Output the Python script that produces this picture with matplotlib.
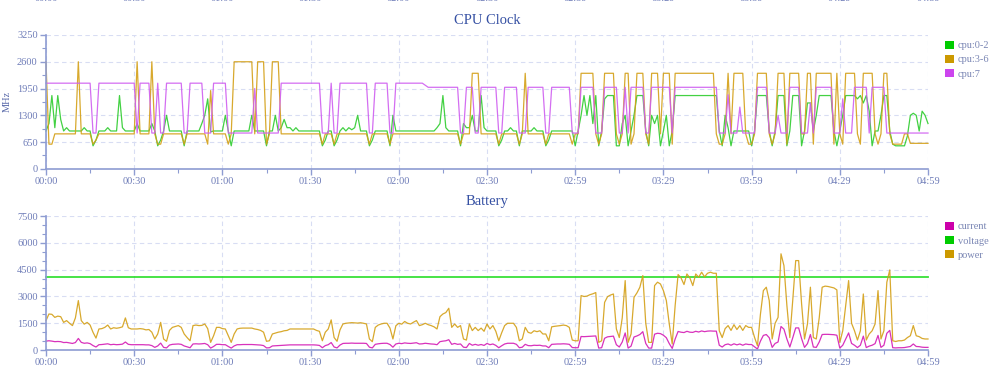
import matplotlib
matplotlib.use('Agg')
import matplotlib.pyplot as plt
from matplotlib.ticker import MultipleLocator
from matplotlib.patches import Patch
from matplotlib.transforms import blended_transform_factory

# x axis: one sample per minute (04:59 is sample 300)
tick_index = [0, 30, 60, 90, 120, 150, 180, 210, 240, 270, 300]
tick_labels = ['00:00', '00:30', '01:00', '01:30', '02:00', '02:30',
               '02:59', '03:29', '03:59', '04:29', '04:59']

cpu_labels = ['cpu:0-2', 'cpu:3-6', 'cpu:7']
battery_labels = ['current', 'voltage', 'power']

cpu_0_2 = [
    920, 1100, 1780, 1000, 1780, 1200, 920, 1000, 920, 920,
    920, 920, 920, 1000, 920, 920, 560, 700, 920, 920,
    920, 1000, 920, 920, 920, 1780, 1000, 920, 920, 920,
    920, 1100, 920, 920, 920, 920, 1100, 920, 560, 700,
    920, 1300, 920, 920, 920, 920, 920, 560, 920, 920,
    920, 920, 920, 1100, 1300, 1700, 900, 920, 920, 920,
    920, 1300, 920, 560, 920, 920, 920, 920, 920, 920,
    1300, 920, 920, 920, 920, 560, 920, 920, 1300, 920,
    1000, 1200, 1000, 1000, 920, 1000, 920, 920, 920, 920,
    920, 920, 920, 920, 560, 700, 920, 920, 560, 700,
    920, 1000, 920, 1000, 950, 1000, 1300, 920, 920, 920,
    560, 700, 920, 920, 920, 920, 920, 560, 1300, 920,
    920, 920, 920, 920, 920, 920, 920, 920, 920, 920,
    920, 920, 920, 1000, 1100, 1780, 1000, 920, 920, 920,
    920, 560, 1100, 1000, 1000, 1300, 920, 920, 1780, 1000,
    920, 920, 920, 920, 560, 700, 920, 920, 1000, 920,
    920, 560, 920, 920, 920, 920, 1000, 920, 920, 920,
    560, 700, 920, 920, 920, 920, 920, 920, 920, 920,
    560, 920, 1300, 1780, 1300, 1780, 1100, 1780, 560, 920,
    1700, 1780, 1780, 1780, 560, 560, 1100, 1300, 560, 920,
    1300, 1780, 1780, 1780, 920, 560, 1300, 1100, 1300, 560,
    920, 1300, 560, 920, 1780, 1780, 1780, 1780, 1780, 1780,
    1780, 1780, 1780, 1780, 1780, 1780, 1780, 1780, 1780, 920,
    560, 1300, 1000, 560, 920, 920, 920, 920, 920, 920,
    560, 920, 1780, 1780, 1780, 1780, 920, 560, 920, 1780,
    1780, 1780, 560, 920, 1780, 1780, 1780, 560, 920, 1600,
    1600, 920, 1300, 1780, 1780, 1780, 1780, 1780, 920, 560,
    920, 1300, 1780, 1780, 1780, 1780, 1700, 1780, 1600, 1780,
    1400, 560, 920, 920, 1300, 1780, 1780, 920, 600, 560,
    560, 560, 560, 800, 1300, 1350, 1300, 920, 1400, 1300,
    1100,
]

cpu_3_6 = [
    2600, 600, 600, 850, 850, 850, 850, 850, 850, 850,
    850, 2600, 850, 850, 850, 850, 600, 700, 850, 850,
    850, 850, 850, 850, 850, 850, 850, 850, 850, 850,
    850, 2600, 850, 850, 850, 850, 2600, 850, 600, 600,
    850, 850, 850, 850, 850, 850, 850, 600, 850, 850,
    850, 850, 850, 850, 850, 600, 1900, 850, 850, 850,
    850, 850, 600, 850, 2600, 2600, 2600, 2600, 2600, 2600,
    2600, 850, 2600, 2600, 2600, 600, 850, 2600, 2600, 2600,
    850, 850, 850, 850, 850, 850, 850, 850, 850, 850,
    850, 850, 850, 850, 600, 850, 850, 850, 600, 850,
    850, 850, 850, 850, 850, 850, 850, 850, 850, 850,
    600, 850, 850, 850, 850, 850, 850, 600, 850, 850,
    850, 850, 850, 850, 850, 850, 850, 850, 850, 850,
    850, 850, 850, 850, 850, 850, 850, 850, 850, 850,
    850, 600, 850, 850, 850, 2320, 2320, 2320, 850, 850,
    850, 850, 850, 850, 600, 850, 850, 850, 850, 850,
    850, 600, 850, 2320, 850, 850, 850, 850, 850, 850,
    600, 850, 850, 850, 850, 850, 850, 850, 850, 600,
    850, 850, 2320, 2320, 2320, 2320, 2320, 850, 600, 850,
    2320, 2320, 2320, 2320, 850, 600, 850, 2320, 2320, 600,
    850, 2320, 2320, 2320, 850, 600, 2320, 2320, 2320, 850,
    2320, 2320, 2320, 600, 2320, 2320, 2320, 2320, 2320, 2320,
    2320, 2320, 2320, 2320, 2320, 2320, 2320, 2320, 850, 600,
    600, 850, 2320, 850, 2320, 2320, 2320, 2320, 850, 600,
    600, 850, 2320, 2320, 2320, 2320, 850, 600, 850, 2320,
    2320, 2320, 600, 2320, 2320, 2320, 2320, 850, 850, 2320,
    2320, 600, 2320, 2320, 2320, 2320, 2320, 2320, 600, 2320,
    850, 600, 2320, 2320, 2320, 2320, 850, 600, 2320, 2320,
    2320, 2320, 850, 600, 850, 2320, 2320, 850, 600, 600,
    600, 600, 850, 850, 620, 620, 620, 620, 620, 620,
    620,
]

cpu_7 = [
    2080, 2080, 2080, 2080, 2080, 2080, 2080, 2080, 2080, 2080,
    2080, 2080, 2080, 2080, 2080, 2080, 870, 870, 2080, 2080,
    2080, 2080, 2080, 2080, 2080, 2080, 2080, 2080, 2080, 2080,
    2080, 870, 2080, 2080, 2080, 2080, 870, 870, 2080, 870,
    870, 2080, 2080, 2080, 2080, 2080, 2080, 870, 870, 2080,
    2080, 2080, 2080, 2080, 870, 870, 870, 2080, 2080, 2080,
    2080, 2080, 870, 870, 870, 870, 870, 870, 870, 870,
    870, 1950, 870, 870, 870, 870, 870, 870, 870, 870,
    2080, 2080, 2080, 2080, 2080, 2080, 2080, 2080, 2080, 2080,
    2080, 2080, 2080, 2080, 870, 870, 870, 2080, 870, 870,
    2080, 2080, 2080, 2080, 2080, 2080, 2080, 2080, 2080, 2080,
    870, 870, 2080, 2080, 2080, 2080, 2080, 870, 870, 2080,
    2080, 2080, 2080, 2080, 2080, 2080, 2080, 2080, 2080, 2030,
    1980, 1980, 1980, 1980, 1980, 1980, 1980, 1980, 1980, 1980,
    1980, 870, 870, 1980, 1980, 1980, 870, 870, 1980, 1980,
    1980, 1980, 1980, 1980, 870, 870, 1980, 1980, 1980, 1980,
    1980, 870, 870, 870, 1980, 1980, 1980, 1980, 1980, 1980,
    870, 870, 1980, 1980, 1980, 1980, 1980, 1980, 1980, 870,
    870, 870, 1980, 1980, 1980, 1980, 1980, 870, 870, 870,
    1980, 1980, 1980, 1980, 1980, 870, 870, 1980, 870, 1980,
    1980, 1980, 1980, 1980, 870, 870, 1980, 1980, 1980, 1980,
    1980, 1980, 1980, 870, 1980, 1980, 1980, 1980, 1980, 1980,
    1980, 1980, 1980, 1980, 1980, 1980, 1980, 1980, 1980, 870,
    870, 870, 1800, 870, 870, 870, 1500, 870, 870, 870,
    870, 870, 1980, 1980, 1980, 1980, 870, 870, 870, 1300,
    870, 870, 870, 1980, 1980, 1980, 1980, 870, 870, 870,
    1600, 870, 1980, 1980, 1980, 1980, 1980, 1980, 870, 870,
    870, 1700, 870, 870, 870, 1980, 1980, 1980, 1980, 1980,
    870, 1980, 1980, 1980, 1980, 1980, 870, 870, 870, 870,
    870, 870, 870, 870, 870, 870, 870, 870, 870, 870,
    870,
]

current = [
    500, 520, 500, 470, 480, 470, 420, 430, 400, 370,
    420, 650, 430, 380, 400, 360, 250, 170, 300, 310,
    330, 350, 300, 320, 300, 310, 330, 450, 320, 300,
    300, 300, 300, 300, 290, 290, 250, 150, 230, 390,
    150, 120, 280, 320, 330, 340, 320, 230, 180, 130,
    340, 350, 340, 350, 370, 300, 110, 200, 320, 320,
    300, 300, 200, 110, 230, 300, 300, 310, 310, 310,
    310, 300, 290, 280, 250, 120, 130, 230, 240, 250,
    260, 270, 280, 290, 290, 290, 290, 290, 290, 290,
    290, 290, 280, 260, 130, 250, 300, 420, 170, 120,
    280, 370, 380, 380, 390, 380, 380, 380, 380, 370,
    160, 120, 320, 350, 370, 380, 380, 310, 160, 340,
    380, 360, 400, 380, 370, 390, 410, 340, 350, 380,
    360, 340, 330, 300, 470, 500, 520, 580, 320, 370,
    320, 340, 160, 140, 370, 270, 320, 270, 310, 260,
    370, 300, 340, 260, 130, 240, 340, 380, 380, 380,
    320, 130, 160, 320, 250, 240, 270, 260, 270, 230,
    230, 130, 320, 330, 340, 340, 350, 340, 320, 140,
    130, 130, 760, 750, 760, 770, 780, 790, 110, 130,
    660, 740, 760, 780, 300, 170, 450, 960, 110, 220,
    730, 790, 870, 1030, 370, 110, 110, 890, 940, 920,
    830, 690, 360, 90, 620, 1040, 1000, 980, 1050, 1000,
    990, 1050, 1010, 1070, 1030, 1060, 1070, 1060, 1060, 270,
    170, 300, 340, 270, 350, 290, 340, 270, 340, 310,
    310, 180, 60, 500, 820, 870, 690, 150, 370, 450,
    1320, 1170, 620, 170, 690, 1240, 1240, 640, 150, 360,
    870, 170, 150, 450, 870, 880, 880, 870, 860, 830,
    110, 270, 620, 960, 370, 270, 140, 270, 780, 140,
    220, 270, 360, 820, 150, 270, 940, 1100, 130, 120,
    130, 130, 140, 170, 200, 340, 200, 190, 160, 150,
    150,
]

voltage = [
    4100, 4100, 4100, 4100, 4100, 4100, 4100, 4100, 4100, 4100, 4100, 4100, 4100, 4100, 4100,
    4100, 4100, 4100, 4100, 4100, 4100, 4100, 4100, 4100, 4100, 4100, 4100, 4100, 4100, 4100,
    4100, 4100, 4100, 4100, 4100, 4100, 4100, 4100, 4100, 4100, 4100, 4100, 4100, 4100, 4100,
    4100, 4100, 4100, 4100, 4100, 4100, 4100, 4100, 4100, 4100, 4100, 4100, 4100, 4100, 4100,
    4100, 4100, 4100, 4100, 4100, 4100, 4100, 4100, 4100, 4100, 4100, 4100, 4100, 4100, 4100,
    4100, 4100, 4100, 4100, 4100, 4100, 4100, 4100, 4100, 4100, 4100, 4100, 4100, 4100, 4100,
    4100, 4100, 4100, 4100, 4100, 4100, 4100, 4100, 4100, 4100, 4100, 4100, 4100, 4100, 4100,
    4100, 4100, 4100, 4100, 4100, 4100, 4100, 4100, 4100, 4100, 4100, 4100, 4100, 4100, 4100,
    4100, 4100, 4100, 4100, 4100, 4100, 4100, 4100, 4100, 4100, 4100, 4100, 4100, 4100, 4100,
    4100, 4100, 4100, 4100, 4100, 4100, 4100, 4100, 4100, 4100, 4100, 4100, 4100, 4100, 4100,
    4100, 4100, 4100, 4100, 4100, 4100, 4100, 4100, 4100, 4100, 4100, 4100, 4100, 4100, 4100,
    4100, 4100, 4100, 4100, 4100, 4100, 4100, 4100, 4100, 4100, 4100, 4100, 4100, 4100, 4100,
    4100, 4100, 4100, 4100, 4100, 4100, 4100, 4100, 4100, 4100, 4100, 4100, 4100, 4100, 4100,
    4100, 4100, 4100, 4100, 4100, 4100, 4100, 4100, 4100, 4100, 4100, 4100, 4100, 4100, 4100,
    4100, 4100, 4100, 4100, 4100, 4100, 4100, 4100, 4100, 4100, 4100, 4100, 4100, 4100, 4100,
    4100, 4100, 4100, 4100, 4100, 4100, 4100, 4100, 4100, 4100, 4100, 4100, 4100, 4100, 4100,
    4100, 4100, 4100, 4100, 4100, 4100, 4100, 4100, 4100, 4100, 4100, 4100, 4100, 4100, 4100,
    4100, 4100, 4100, 4100, 4100, 4100, 4100, 4100, 4100, 4100, 4100, 4100, 4100, 4100, 4100,
    4100, 4100, 4100, 4100, 4100, 4100, 4100, 4100, 4100, 4100, 4100, 4100, 4100, 4100, 4100,
    4100, 4100, 4100, 4100, 4100, 4100, 4100, 4100, 4100, 4100, 4100, 4100, 4100, 4100, 4100,
    4100,
]

power = [
    1650, 2020, 2000, 1830, 1900, 1870, 1550, 1650, 1500, 1370,
    1800, 2770, 1650, 1450, 1550, 1400, 990, 670, 1180, 1200,
    1270, 1400, 1180, 1250, 1220, 1250, 1300, 1800, 1250, 1180,
    1180, 1180, 1200, 1180, 1130, 1150, 1000, 620, 900, 1550,
    620, 490, 1100, 1270, 1320, 1370, 1270, 900, 700, 520,
    1370, 1400, 1370, 1380, 1460, 1200, 430, 800, 1270, 1270,
    1200, 1180, 800, 430, 900, 1180, 1220, 1230, 1230, 1230,
    1230, 1180, 1150, 1100, 1000, 490, 520, 900, 950, 1000,
    1030, 1080, 1100, 1180, 1180, 1180, 1180, 1180, 1180, 1180,
    1180, 1180, 1100, 1050, 520, 1000, 1180, 1690, 700, 490,
    1130, 1460, 1500, 1520, 1535, 1520, 1510, 1530, 1500, 1460,
    620, 470, 1270, 1400, 1460, 1500, 1500, 1230, 620, 1360,
    1500, 1450, 1600, 1500, 1460, 1560, 1650, 1370, 1420, 1500,
    1420, 1370, 1300, 1180, 1870, 2020, 2100, 2340, 1270, 1460,
    1270, 1370, 620, 560, 1460, 1090, 1270, 1090, 1230, 1050,
    1460, 1180, 1370, 1050, 520, 970, 1370, 1500, 1500, 1500,
    1270, 520, 620, 1270, 990, 940, 1080, 1030, 1080, 900,
    900, 520, 1300, 1330, 1350, 1370, 1400, 1370, 1270, 560,
    520, 520, 3050, 3000, 3020, 3100, 3150, 3220, 430, 520,
    2670, 2990, 3080, 3140, 1180, 700, 1800, 3890, 430, 900,
    2950, 3200, 3520, 4170, 1500, 430, 430, 3610, 3800, 3700,
    3330, 2770, 1460, 340, 2500, 4230, 4040, 3670, 4260, 4040,
    3610, 4260, 4080, 4360, 4100, 4300, 4360, 4300, 4300, 1080,
    700, 1200, 1370, 1100, 1420, 1150, 1370, 1100, 1370, 1270,
    1270, 710, 240, 2000, 3330, 3520, 2770, 620, 1500, 1830,
    5390, 4730, 2500, 700, 2800, 5010, 5010, 2600, 620, 1460,
    3520, 700, 620, 1800, 3520, 3580, 3560, 3520, 3480, 3370,
    430, 1080, 2500, 3890, 1500, 1080, 560, 1080, 3140, 560,
    900, 1080, 1460, 3330, 620, 1080, 3800, 4490, 520, 480,
    520, 520, 560, 700, 800, 1370, 800, 750, 650, 620,
    620,
]

cpu_colors = ['#2ecc2e', '#d4a017', '#cf5ef0']
cpu_legend_colors = ['#00cc00', '#cc9900', '#cc44ee']
battery_colors = ['#d41bb4', '#22dd22', '#d4a017']
battery_widths = [0.9, 1.3, 0.9]
battery_legend_colors = ['#cc00aa', '#00cc00', '#cc9900']

FONT = ['Liberation Serif', 'DejaVu Serif']
AXIS_C = '#8e9cd2'
TEXT_C = '#6e7cb8'
GRID_C = '#d8ddf3'
TITLE_C = '#3550a3'

fig = plt.figure(figsize=(10, 3.72), dpi=100)
fig.patch.set_facecolor('white')

ax_cpu = fig.add_axes([0.046, 0.546, 0.882, 0.36])
ax_bat = fig.add_axes([0.046, 0.059, 0.882, 0.360])


def style_axes(ax, ymax, ystep, yminor):
    ax.set_xlim(0, 300)
    ax.set_ylim(0, ymax)
    ax.set_xticks(tick_index)
    ax.set_xticklabels(tick_labels)
    ax.xaxis.set_minor_locator(MultipleLocator(15))
    ax.yaxis.set_major_locator(MultipleLocator(ystep))
    ax.yaxis.set_minor_locator(MultipleLocator(yminor))
    ax.grid(True, which='major', color=GRID_C, linestyle=(0, (4, 3)), linewidth=0.8)
    ax.set_axisbelow(True)
    for s in ['top', 'right']:
        ax.spines[s].set_visible(False)
    for s in ['left', 'bottom']:
        ax.spines[s].set_color(AXIS_C)
        ax.spines[s].set_linewidth(1.2)
    ax.tick_params(which='major', colors=AXIS_C, labelcolor=TEXT_C, labelsize=7.5,
                   length=4, width=1, pad=2)
    ax.tick_params(which='minor', colors=AXIS_C, length=3, width=0.8)
    for lab in ax.get_xticklabels() + ax.get_yticklabels():
        lab.set_family(FONT)


style_axes(ax_cpu, 3250, 650, 325)
style_axes(ax_bat, 7500, 1500, 500)

x = list(range(len(power)))
for vals, c in zip([cpu_0_2, cpu_3_6, cpu_7], cpu_colors):
    ax_cpu.plot(x, vals, color=c, linewidth=0.9, alpha=0.9, clip_on=False)
for vals, c, w in zip([current, voltage, power], battery_colors, battery_widths):
    ax_bat.plot(x, vals, color=c, linewidth=w, alpha=0.9, clip_on=False)

ax_cpu.set_ylabel('MHz', family=FONT, fontsize=7.5, color='#5a6aaa', labelpad=4)

fig.text(0.487, 0.946, 'CPU Clock', ha='center', va='center', fontsize=10.5,
         color=TITLE_C, family=FONT)
fig.text(0.487, 0.459, 'Battery', ha='center', va='center', fontsize=10.5,
         color=TITLE_C, family=FONT)

for ax, labels, colors, top in [(ax_cpu, cpu_labels, cpu_legend_colors, 0.905),
                                (ax_bat, battery_labels, battery_legend_colors, 0.418)]:
    handles = [Patch(facecolor=c, edgecolor='none') for c in colors]
    leg = ax.legend(handles, labels, loc='upper left', bbox_to_anchor=(0.940, top),
                    bbox_transform=fig.transFigure, frameon=False,
                    handlelength=0.8, handleheight=0.8, handletextpad=0.4,
                    labelspacing=0.45, borderpad=0,
                    prop={'family': FONT, 'size': 7.5})
    for t in leg.get_texts():
        t.set_color('#7a86b4')

# x labels of the chart above, cut off at the top edge as in the original
trans = blended_transform_factory(ax_cpu.transData, fig.transFigure)
for pos, lab in zip(tick_index, tick_labels):
    fig.text(pos, 1.004, lab, transform=trans, ha='center', va='center',
             fontsize=7.5, color=TEXT_C, family=FONT)

fig.savefig('out.png', dpi=100, facecolor='white')
